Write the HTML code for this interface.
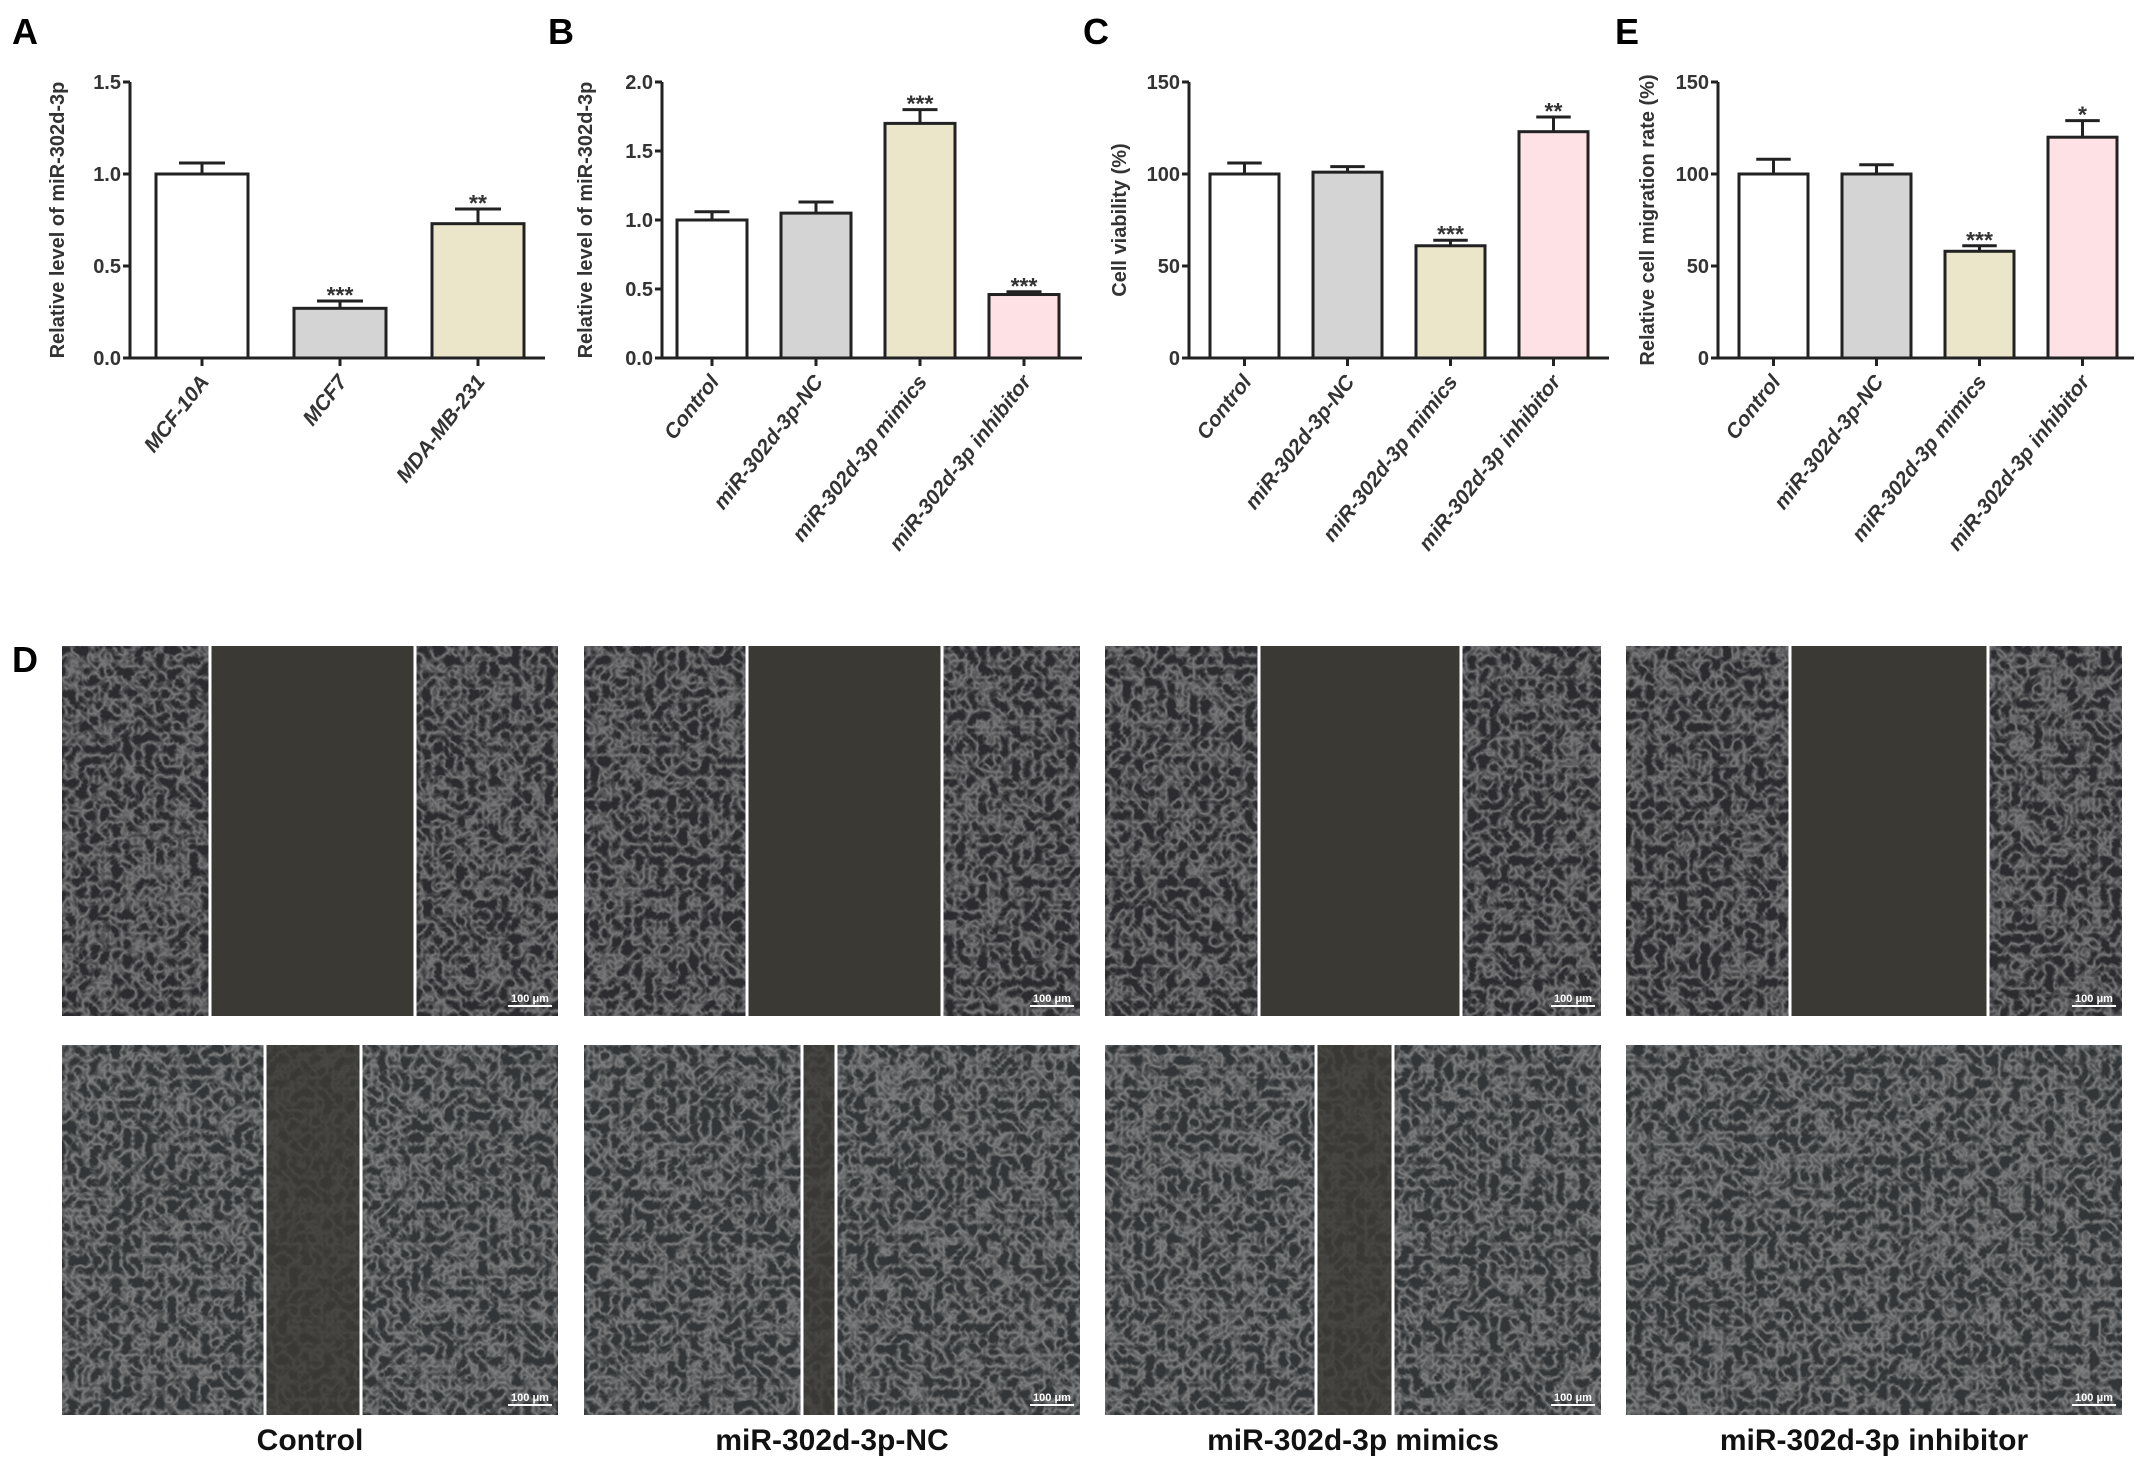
<!DOCTYPE html>
<html><head><meta charset="utf-8">
<style>
html,body{margin:0;padding:0;background:#fff;}
svg{display:block;font-family:"Liberation Sans",Arial,sans-serif;}
</style></head>
<body>
<svg id="fig" width="2150" height="1475" viewBox="0 0 2150 1475" xmlns="http://www.w3.org/2000/svg">
<defs>
<filter id="cells" x="0" y="0" width="100%" height="100%">
<feTurbulence type="turbulence" baseFrequency="0.09" numOctaves="2" seed="3" result="t"/>
<feColorMatrix in="t" type="matrix" values="0 0 0 0 0.8  0 0 0 0 0.8  0 0 0 0 0.8  0 0 0 -2.6 1.1" />
</filter>
</defs>
<g id="charts"></g>
<g id="photos"></g>
</svg>
<script>
// ---- Panel A data ----
const catsA = ["MCF-10A","MCF7","MDA-MB-231"];
const valsA = [1.0,0.27,0.73];
const errA = [0.06,0.04,0.08];
const sigA = ["","***","**"];
const ticksA = [0,0.5,1.0,1.5];
// ---- Panel B data ----
const catsB = ["Control","miR-302d-3p-NC","miR-302d-3p mimics","miR-302d-3p inhibitor"];
const valsB = [1.0,1.05,1.70,0.46];
const errB = [0.06,0.08,0.10,0.02];
const sigB = ["","","***","***"];
const ticksB = [0,0.5,1.0,1.5,2.0];
// ---- Panel C data ----
const catsC = ["Control","miR-302d-3p-NC","miR-302d-3p mimics","miR-302d-3p inhibitor"];
const valsC = [100,101,61,123];
const errC = [6,3,3,8];
const sigC = ["","","***","**"];
const ticksC = [0,50,100,150];
// ---- Panel E data ----
const catsE = ["Control","miR-302d-3p-NC","miR-302d-3p mimics","miR-302d-3p inhibitor"];
const valsE = [100,100,58,120];
const errE = [8,5,3,9];
const sigE = ["","","***","*"];
const ticksE = [0,50,100,150];

const fills4 = ["#ffffff","#d4d4d4","#ebe5ca","#fde1e4"];
const fills3 = ["#ffffff","#d4d4d4","#ebe5ca"];
const NS = "http://www.w3.org/2000/svg";
const charts = document.getElementById('charts');
function mk(tag, attrs, parent){
  const e = document.createElementNS(NS, tag);
  for (const k in attrs) e.setAttribute(k, attrs[k]);
  (parent||charts).appendChild(e);
  return e;
}
const Y0 = 358, Y1 = 82;
function chart(id, letter, letterX, title, titleX, cats, vals, errs, sigs, ticks, fills, ax, pad, step, bw, axEnd, decimals){
  const g = mk('g', {});
  
  
  const maxV = ticks[ticks.length-1];
  const ys = v => Y0 - (v/maxV)*(Y0-Y1);
  const xs = i => ax + pad + i*step;
  const L = mk('text', {x:letterX, y:44, 'font-size':36, 'font-weight':'bold'}, g);
  L.textContent = letter;
  
  
  const T = mk('text', {x:0, y:0, 'font-size':20, 'font-weight':'bold', fill:'#333', 'text-anchor':'middle', transform:`translate(${titleX},${(Y0+Y1)/2}) rotate(-90)`}, g);
  T.textContent = title;
  
  
  const ya = mk('line', {x1:ax, y1:Y1, x2:ax, y2:Y0, stroke:'#222', 'stroke-width':3}, g);
  
  
  ticks.forEach(t => {
    const y = ys(t);
    mk('line', {x1:ax-7, y1:y, x2:ax, y2:y, stroke:'#222', 'stroke-width':3}, g);
    const tl = mk('text', {x:ax-9, y:y+7, 'font-size':20, 'font-weight':'bold', fill:'#333', 'text-anchor':'end'}, g);
    tl.textContent = decimals ? t.toFixed(1) : String(t);
    
    
  });
  cats.forEach((c,i) => {
    const x = xs(i), cx = x + bw/2;
    const top = ys(vals[i]), et = ys(vals[i]+errs[i]);
    mk('line', {x1:cx, y1:et, x2:cx, y2:top, stroke:'#222', 'stroke-width':3}, g);
    mk('line', {x1:cx-bw*0.25, y1:et, x2:cx+bw*0.25, y2:et, stroke:'#222', 'stroke-width':3}, g);
    const b = mk('rect', {x:x, y:top, width:bw, height:Y0-top, fill:fills[i], stroke:'#222', 'stroke-width':3}, g);
    
    
    if (sigs[i]) {
      const s = mk('text', {x:cx, y:et+2, 'font-size':23, 'font-weight':'bold', fill:'#333', 'text-anchor':'middle'}, g);
      s.textContent = sigs[i];
      
      
    }
    mk('line', {x1:cx, y1:Y0, x2:cx, y2:Y0+8, stroke:'#222', 'stroke-width':3}, g);
    const xl = mk('text', {x:0, y:0, 'font-size':21, 'font-weight':'bold', 'font-style':'italic', fill:'#333', 'text-anchor':'end', transform:`translate(${cx+8},${Y0+24}) rotate(-52)`}, g);
    xl.textContent = c;
    
    
  });
  const xa = mk('line', {x1:ax-1, y1:Y0, x2:axEnd, y2:Y0, stroke:'#222', 'stroke-width':3}, g);
  
  
}
chart('a','A',12,'Relative level of miR-302d-3p',64,catsA,valsA,errA,sigA,ticksA,fills3,130,26,138,92,545,true);
chart('b','B',548,'Relative level of miR-302d-3p',592,catsB,valsB,errB,sigB,ticksB,fills4,662,15,104,70,1082,true);
chart('c','C',1083,'Cell viability (%)',1126,catsC,valsC,errC,sigC,ticksC,fills4,1189,21,103,69,1609,false);
chart('e','E',1615,'Relative cell migration rate (%)',1654,catsE,valsE,errE,sigE,ticksE,fills4,1718,21,103,69,2134,false);

// ---- Panel D photos ----
const photos = document.getElementById('photos');
const dL = mk('text', {x:12, y:672, 'font-size':36, 'font-weight':'bold'}, photos);
dL.textContent = 'D';


const colX = [62,584,1105,1626];
const pw = 496;
const rows = [[646,1016],[1045,1415]];
const gapsTop = [[210,415],[747,942],[1259,1461],[1790,1988]];
const gapsBot = [[265,361],[802,836],[1316,1393],null];
const captions = ["Control","miR-302d-3p-NC","miR-302d-3p mimics","miR-302d-3p inhibitor"];
rows.forEach((r,ri) => {
  colX.forEach((x,ci) => {
    const g = mk('g', {}, photos);
    
    
    const h = r[1]-r[0];
    mk('rect', {x:x, y:r[0], width:pw, height:h, fill: ri===0 ? '#2c2c30' : '#333638'}, g);
    mk('rect', {x:x, y:r[0], width:pw, height:h, filter:'url(#cells)', opacity:0.4}, g);
    const gp = (ri===0 ? gapsTop : gapsBot)[ci];
    if (gp) {
      mk('rect', {x:gp[0], y:r[0], width:gp[1]-gp[0], height:h, fill:'#3b3934', opacity: ri===0 ? 1 : 0.8}, g);
      mk('line', {x1:gp[0], y1:r[0], x2:gp[0], y2:r[1], stroke:'#fff', 'stroke-width':3}, g);
      mk('line', {x1:gp[1], y1:r[0], x2:gp[1], y2:r[1], stroke:'#fff', 'stroke-width':3}, g);
    }
    const sb = mk('text', {x:x+pw-28, y:r[1]-14, 'font-size':11, 'font-weight':'bold', fill:'#fff', 'text-anchor':'middle'}, g);
    sb.textContent = '100 μm';
    
    
    mk('line', {x1:x+pw-50, y1:r[1]-10, x2:x+pw-6, y2:r[1]-10, stroke:'#fff', 'stroke-width':2}, g);
  });
});
captions.forEach((c,i) => {
  const t = mk('text', {x:colX[i]+pw/2, y:1450, 'font-size':30, 'font-weight':'bold', 'text-anchor':'middle', fill:'#111'}, photos);
  t.textContent = c;
  
  
});
</script>
</body></html>
